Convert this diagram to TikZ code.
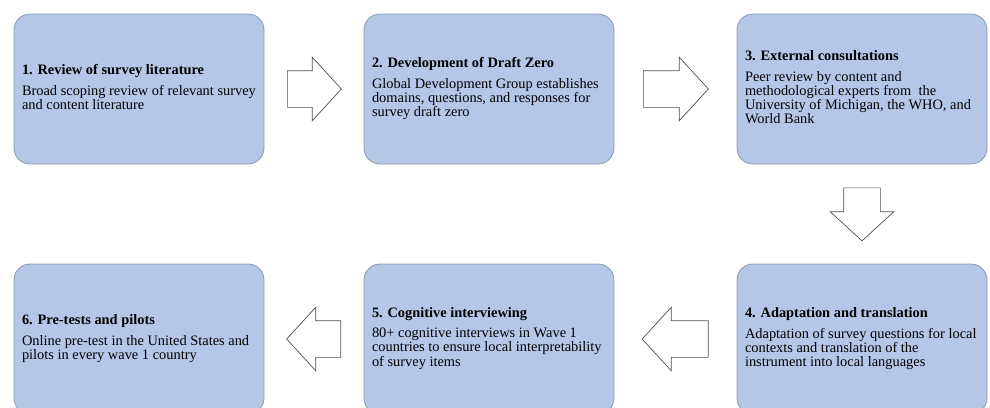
\documentclass[tikz,border=0pt]{standalone}
\usepackage{fontspec}
\setmainfont{Liberation Serif}
\usetikzlibrary{shapes.arrows,calc}
\definecolor{boxfill}{RGB}{180,199,231}
\definecolor{boxline}{RGB}{138,152,178}
\definecolor{arrline}{RGB}{80,80,80}
\newcommand{\boxtext}[2]{\makebox[234pt][l]{\begin{tabular}{@{}l@{}}\textbf{#1}\\[6.5pt]#2\end{tabular}}}
\begin{document}
\begin{tikzpicture}[x=1pt,y=-1pt,
  stepbox/.style={draw=boxline, line width=0.8pt, fill=boxfill, rounded corners=16pt,
    minimum width=250pt, minimum height=150pt, inner sep=8pt,
    font=\fontsize{14.4}{13.3}\selectfont},
  blockarrow/.style={single arrow, draw=arrline, fill=white, line width=0.7pt,
    single arrow head extend=13.5pt, single arrow tip angle=95,
    minimum height=#1, anchor=tail},
  harrow/.style={blockarrow=#1, inner xsep=0pt, inner ysep=18pt},
  varrow/.style={blockarrow=#1, inner xsep=18pt, inner ysep=0pt, shape border rotate=270}]
\useasboundingbox (0,0) rectangle (990,407);
\clip (0,0) rectangle (990,407);
\node[stepbox] (b1) at (139,89) {\boxtext{1. Review of survey literature}{Broad scoping review of relevant survey\\and content literature}};
\node[stepbox] (b2) at (489,89) {\boxtext{2. Development of Draft Zero}{Global Development Group establishes\\domains, questions, and responses for\\survey draft zero}};
\node[stepbox] (b3) at (862,89) {\boxtext{3. External consultations}{Peer review by content and\\methodological experts from\ \ the\\University of Michigan, the WHO, and\\World Bank}};
\node[stepbox] (b4) at (862,339) {\boxtext{4. Adaptation and translation}{Adaptation of survey questions for local\\contexts and translation of the\\instrument into local languages}};
\node[stepbox] (b5) at (489,339) {\boxtext{5. Cognitive interviewing}{80+ cognitive interviews in Wave 1\\countries to ensure local interpretability\\of survey items}};
\node[stepbox] (b6) at (139,339) {\boxtext{6. Pre-tests and pilots}{Online pre-test in the United States and\\pilots in every wave 1 country}};
\node[harrow=54pt] (a12) at ($(b1.east)!0.5!(b2.west)+(-27,0)$) {};
\node[harrow=65pt] (a23) at ($(b2.east)!0.5!(b3.west)+(-32.5,0)$) {};
\node[varrow=53pt] (a34) at ($(b3.south)!0.5!(b4.north)+(0,-26.5)$) {};
\node[harrow=66pt, shape border rotate=180] (a45) at ($(b4.west)!0.5!(b5.east)+(33,0)$) {};
\node[harrow=54pt, shape border rotate=180] (a56) at ($(b5.west)!0.5!(b6.east)+(27,0)$) {};
\end{tikzpicture}
\end{document}
